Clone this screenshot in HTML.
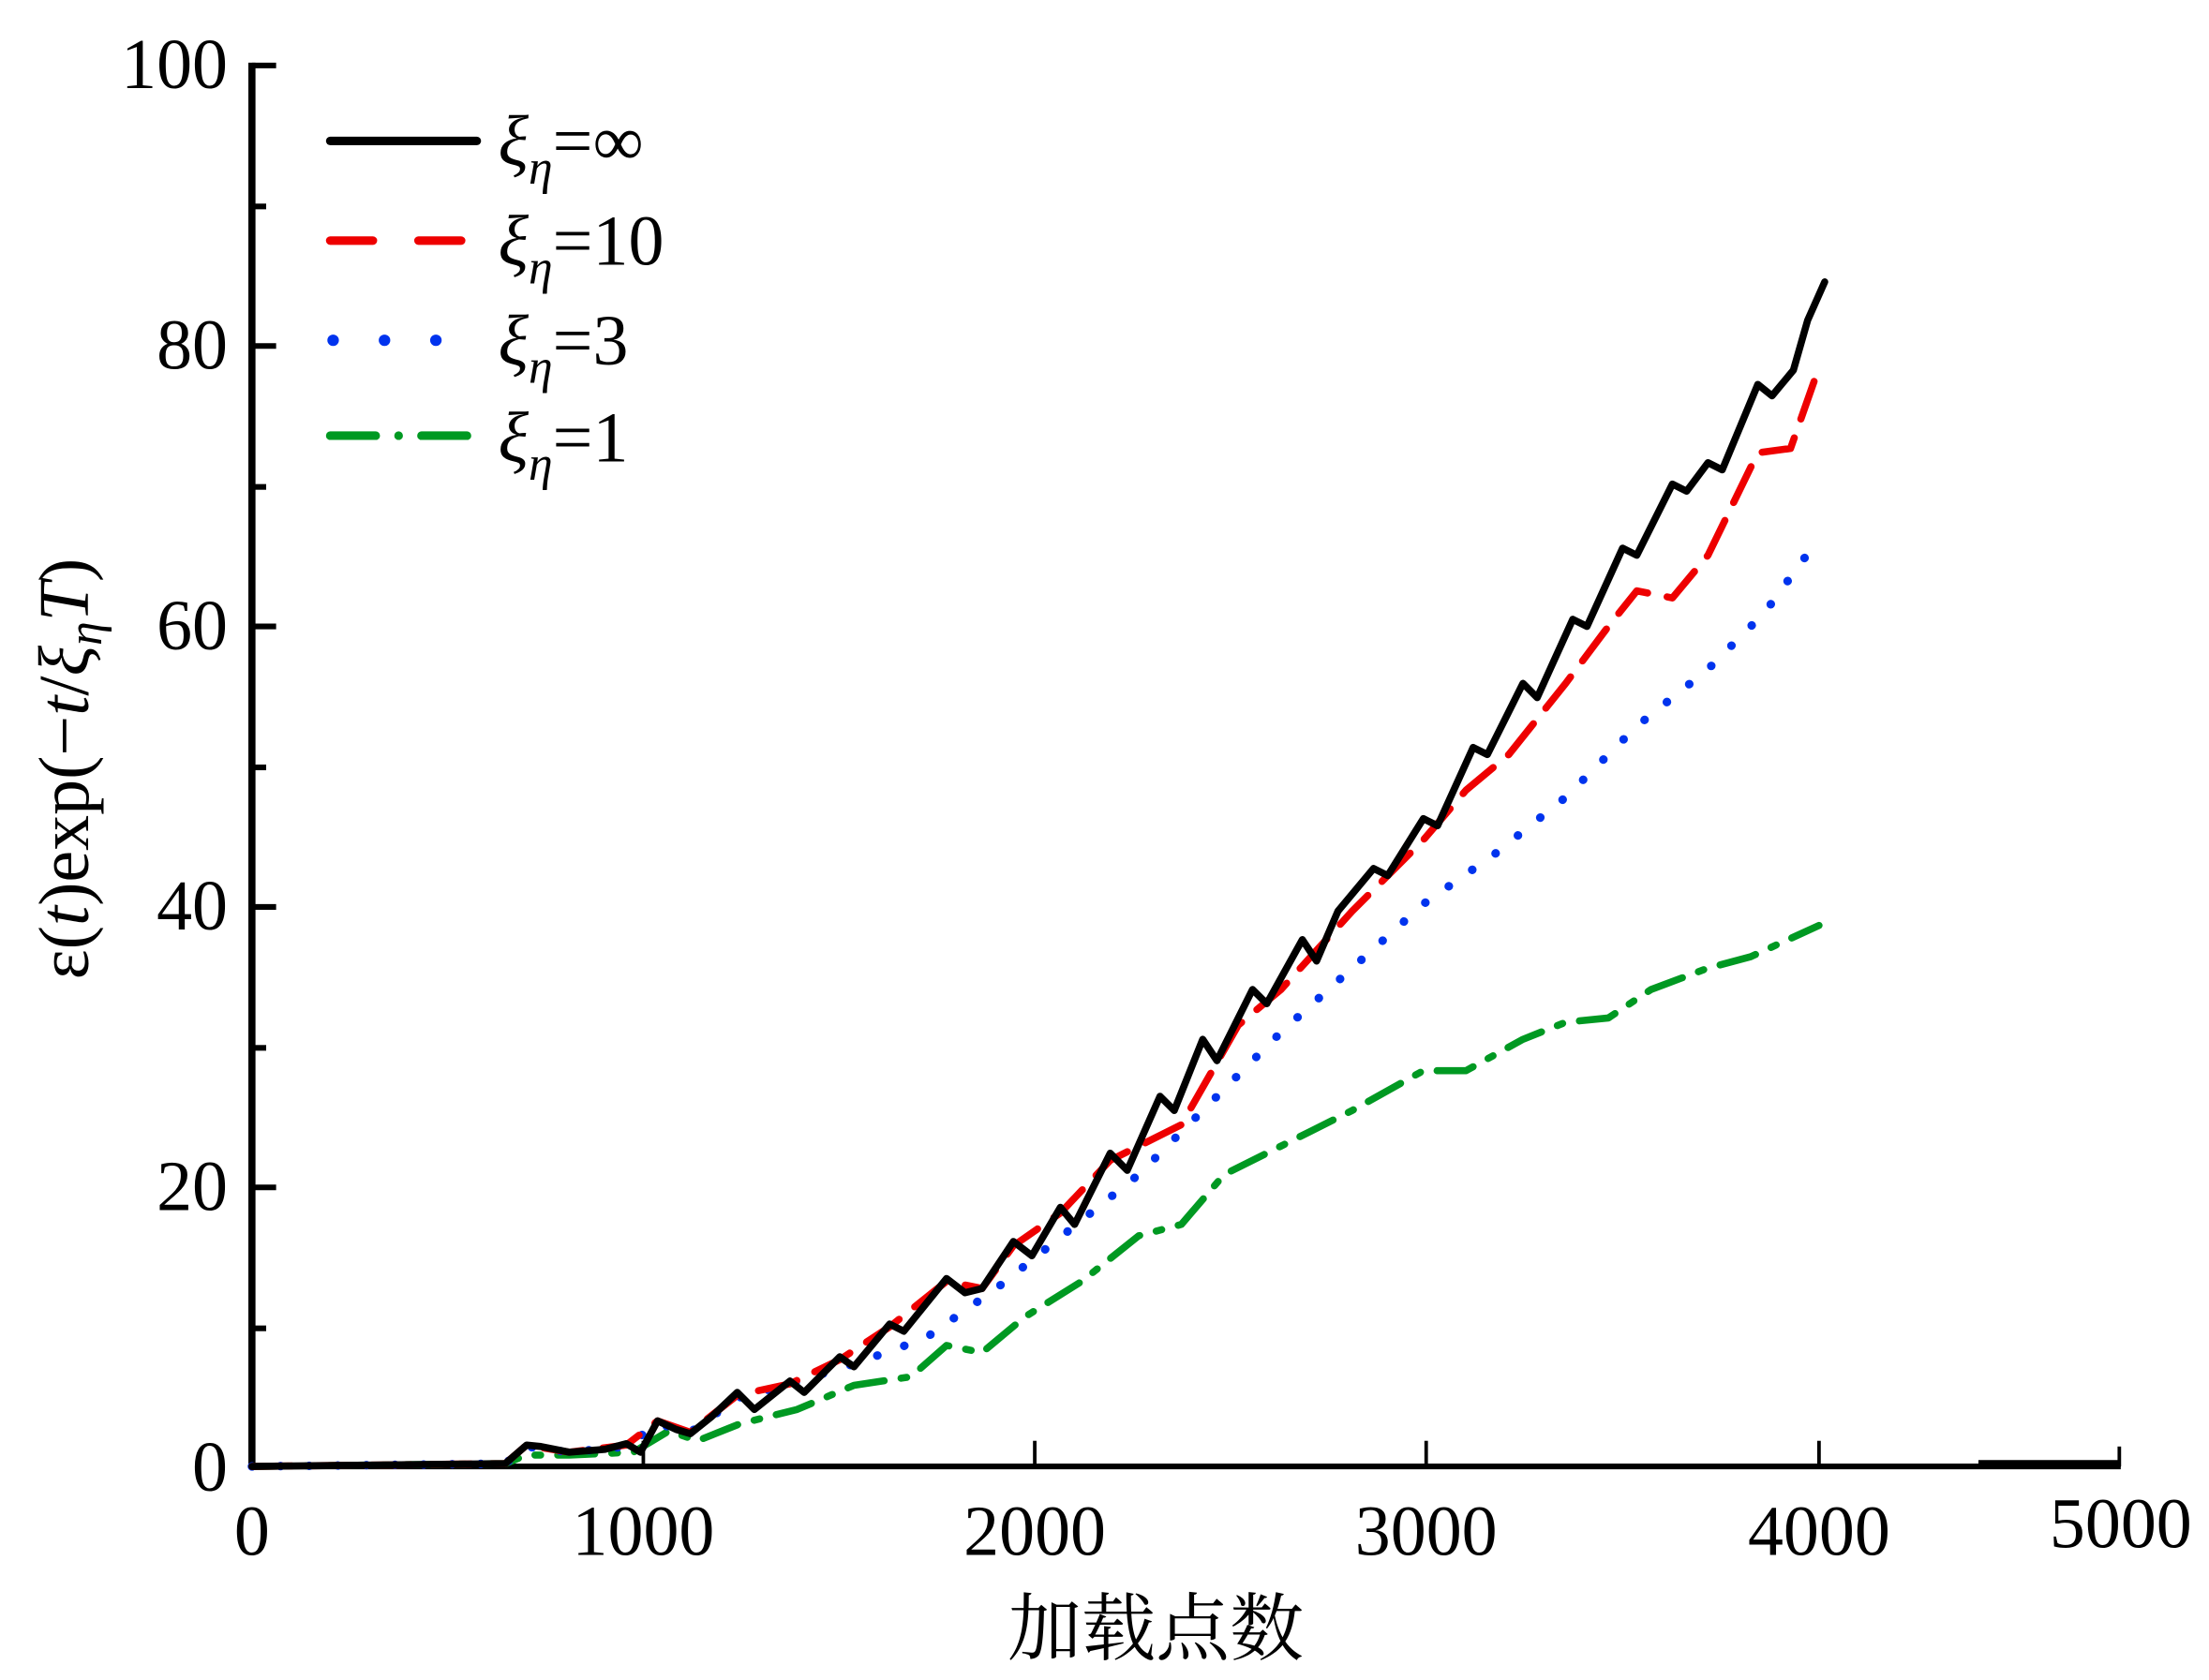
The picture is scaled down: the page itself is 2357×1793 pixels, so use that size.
<!DOCTYPE html>
<html><head><meta charset="utf-8"><style>html,body{margin:0;padding:0;background:#fff}svg{display:block}</style></head>
<body>
<svg width="2357" height="1793" viewBox="0 0 1552 1180" preserveAspectRatio="none" xmlns="http://www.w3.org/2000/svg" font-family="'Liberation Serif','Noto Serif CJK SC',serif">
<rect width="1552" height="1180" fill="#fff"/>
<g stroke="#000" fill="none">
<line x1="177" y1="44" x2="177" y2="1031" stroke-width="5"/>
<line x1="175" y1="1030" x2="1490" y2="1030" stroke-width="4"/>
<line x1="1390" y1="1028" x2="1490" y2="1028" stroke-width="5"/>
<g stroke-width="4">
<line x1="177" y1="46" x2="194" y2="46"/><line x1="177" y1="243" x2="194" y2="243"/>
<line x1="177" y1="440" x2="194" y2="440"/><line x1="177" y1="637" x2="194" y2="637"/>
<line x1="177" y1="834" x2="194" y2="834"/>
<line x1="177" y1="145" x2="187" y2="145"/><line x1="177" y1="342" x2="187" y2="342"/>
<line x1="177" y1="539" x2="187" y2="539"/><line x1="177" y1="736" x2="187" y2="736"/>
<line x1="177" y1="933" x2="187" y2="933"/>
</g>
<g stroke-width="2.5">
<line x1="452" y1="1030" x2="452" y2="1012"/><line x1="727" y1="1030" x2="727" y2="1012"/>
<line x1="1002" y1="1030" x2="1002" y2="1012"/><line x1="1278" y1="1030" x2="1278" y2="1012"/>
<line x1="1489" y1="1030" x2="1489" y2="1016"/>
</g>
</g>
<g font-size="50" fill="#000" text-anchor="end">
<text x="160" y="62">100</text><text x="160" y="259">80</text><text x="160" y="456">60</text>
<text x="160" y="653">40</text><text x="160" y="850">20</text><text x="160" y="1047">0</text>
</g>
<g font-size="50" fill="#000" text-anchor="middle">
<text x="177" y="1092">0</text><text x="452" y="1092">1000</text><text x="727" y="1092">2000</text>
<text x="1002" y="1092">3000</text><text x="1278" y="1092">4000</text><text x="1490" y="1087">5000</text>
</g>
<text x="812" y="1162" font-size="52" text-anchor="middle" font-family="'Liberation Serif','Noto Serif CJK SC','Noto Sans CJK SC',serif">加载点数</text>
<text transform="translate(62,540) rotate(-90)" font-size="50" text-anchor="middle">ε(<tspan font-style="italic">t</tspan>)exp(−<tspan font-style="italic">t</tspan>/<tspan font-style="italic">ξ</tspan><tspan font-style="italic" font-size="34" dy="9">η</tspan><tspan font-style="italic" dy="-9">T</tspan>)</text>
<g stroke-linecap="round" fill="none" stroke-width="6">
<line x1="232" y1="99" x2="335" y2="99" stroke="#000"/>
<line x1="232" y1="169" x2="335" y2="169" stroke="#e00" stroke-dasharray="30,32"/>
<line x1="234" y1="239" x2="335" y2="239" stroke="#0033ee" stroke-dasharray="0.1,36" stroke-width="8"/>
<line x1="232" y1="306" x2="335" y2="306" stroke="#009922" stroke-dasharray="32,16,0.1,16"/>
</g>
<g font-size="50" fill="#000">
<text x="350" y="116"><tspan font-style="italic">ξ</tspan><tspan font-style="italic" font-size="34" dy="13">η</tspan><tspan dy="-13">=∞</tspan></text>
<text x="350" y="186"><tspan font-style="italic">ξ</tspan><tspan font-style="italic" font-size="34" dy="13">η</tspan><tspan dy="-13">=10</tspan></text>
<text x="350" y="256"><tspan font-style="italic">ξ</tspan><tspan font-style="italic" font-size="34" dy="13">η</tspan><tspan dy="-13">=3</tspan></text>
<text x="350" y="324"><tspan font-style="italic">ξ</tspan><tspan font-style="italic" font-size="34" dy="13">η</tspan><tspan dy="-13">=1</tspan></text>
</g>
<g fill="none" stroke-width="5" stroke-linejoin="round" stroke-linecap="round">
<polyline stroke="#009922" stroke-dasharray="26,12,4,12" points="177,1030 355,1028 370,1022 400,1022 445,1020 470,1005 490,1012 520,1000 560,990 600,973 640,967 665,945 690,950 720,925 760,900 800,868 830,860 860,825 900,805 950,780 1000,752 1030,752 1070,730 1100,718 1130,715 1160,695 1200,680 1230,672 1278,650"/>
<polyline stroke="#0033ee" stroke-dasharray="0.1,20" stroke-width="6" points="177,1030 355,1028 370,1016 400,1020 440,1016 462,1000 485,1006 518,982 555,972 600,958 650,940 700,905 750,865 800,825 850,775 900,725 950,680 1000,635 1050,600 1100,560 1150,510 1200,470 1240,430 1278,378"/>
<polyline stroke="#e00" stroke-dasharray="28,14" points="177,1030 355,1028 370,1015 400,1020 440,1015 462,998 485,1006 518,980 555,972 590,955 625,932 665,900 690,905 712,875 745,852 780,815 830,790 870,720 900,695 950,640 1000,590 1030,555 1060,530 1100,480 1130,440 1150,415 1175,420 1200,390 1235,318 1258,315 1278,258"/>
<polyline stroke="#000" points="177,1030 355,1028 370,1015 380,1016 400,1020 425,1018 440,1014 450,1020 462,998 475,1004 485,1007 500,995 518,978 530,990 555,970 565,978 590,953 600,960 625,930 635,935 665,898 678,908 690,905 712,872 725,882 745,848 755,860 780,810 792,822 815,770 825,780 845,730 855,745 880,695 890,705 915,660 925,675 940,640 965,610 975,615 1000,575 1010,580 1035,525 1045,530 1070,480 1080,490 1105,435 1115,440 1140,385 1150,390 1175,340 1185,345 1200,325 1210,330 1235,270 1245,278 1260,260 1270,225 1282,198"/>
</g>
</svg>
</body></html>
